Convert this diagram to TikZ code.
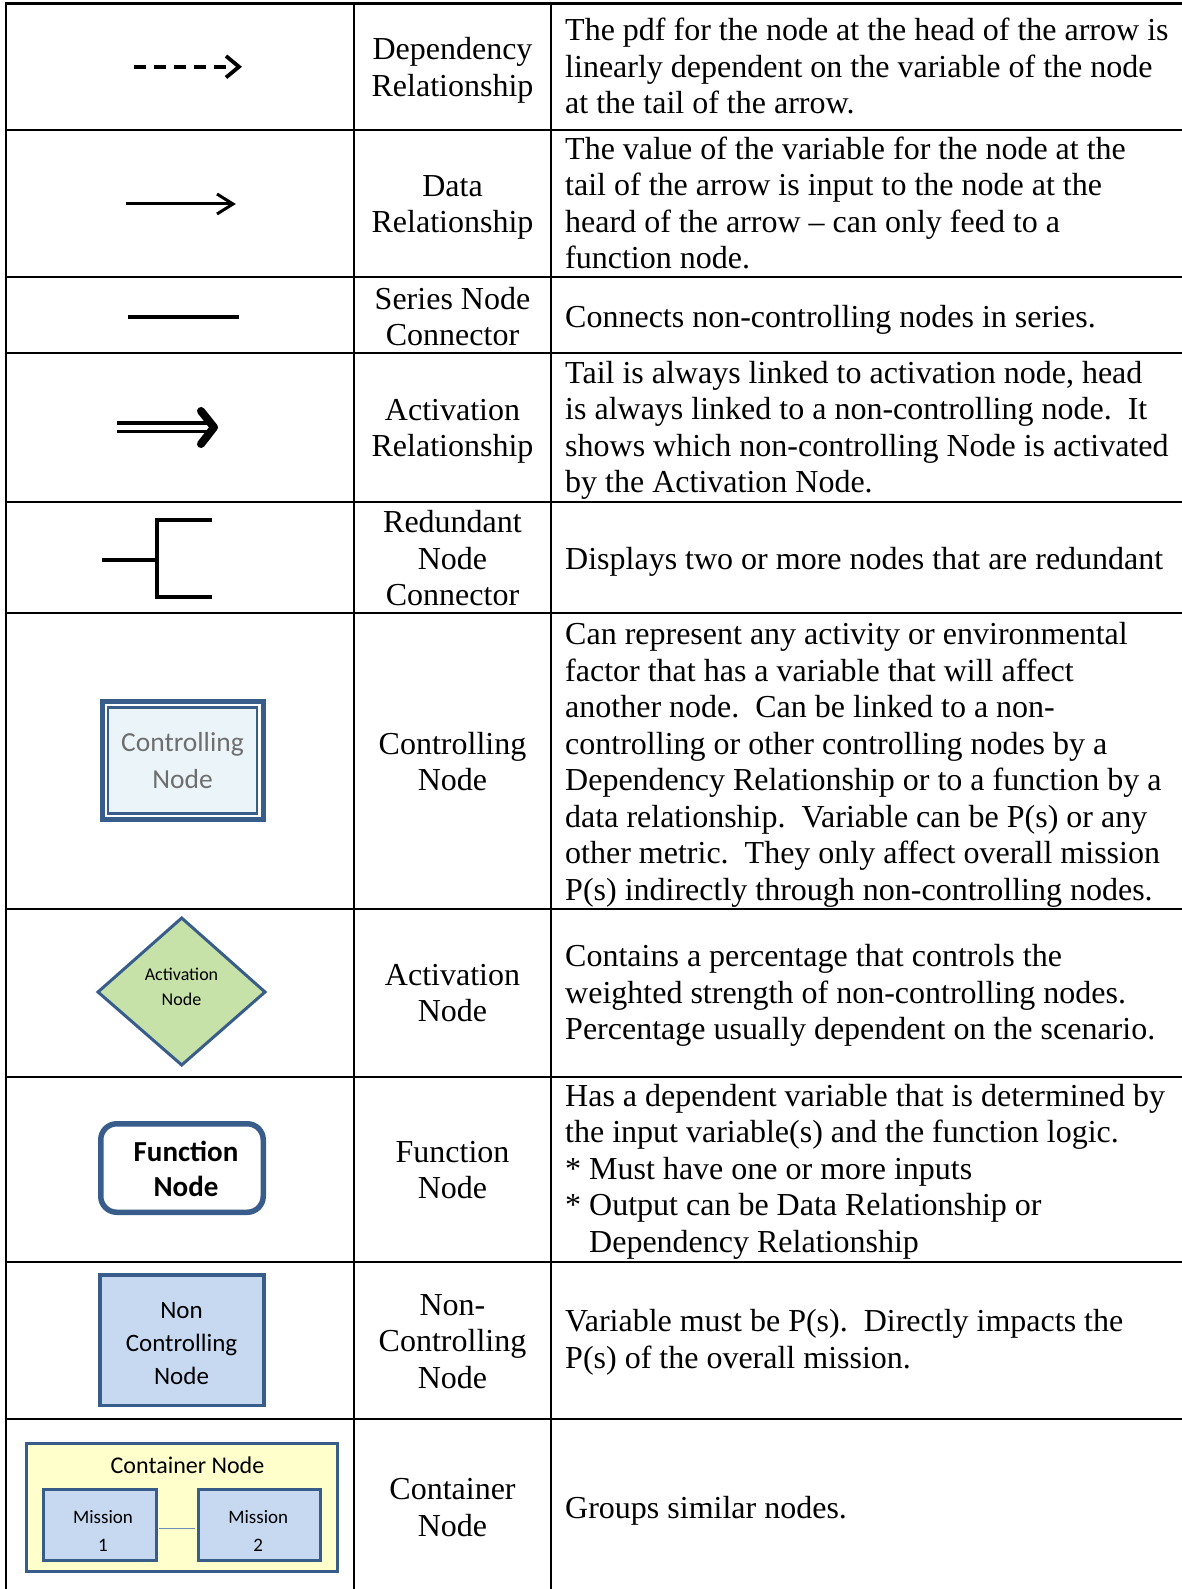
\documentclass[tikz,border=0pt]{standalone}
\usepackage{fontspec}
\setmainfont{Liberation Serif}
\newfontfamily\calfont{Carlito}
\usetikzlibrary{calc}
\definecolor{nodeblue}{HTML}{385D8A}
\definecolor{ctrlfill}{HTML}{EBF4F8}
\definecolor{ctrltext}{HTML}{6E6E6E}
\definecolor{actfill}{HTML}{C7E2A8}
\definecolor{ncfill}{HTML}{C6D9F1}
\definecolor{contfill}{HTML}{FFFFCC}
\definecolor{linkblue}{HTML}{6F8FB8}
\begin{document}
\begin{tikzpicture}[x=1pt,y=-1pt,
  gridline/.style={line width=2.5pt,black},
  txt/.style={inner sep=0pt,font=\fontsize{32}{36.5}\selectfont\frenchspacing,
    execute at begin node=\strut, execute at end node=\strut},
  namecell/.style={txt,anchor=center,align=center},
  desccell/.style={txt,anchor=west,align=left},
  caltxt/.style={inner sep=0pt,align=center,
    execute at begin node=\strut, execute at end node=\strut},
  symline/.style={line width=#1,black},
  shapebox/.style={draw=nodeblue,inner sep=0pt}
]
\useasboundingbox (0,0) rectangle (1182,1589);

% ---------- table grid ----------
\draw[gridline] (4.9,3.3) -- (1182,3.3);
\foreach \yy in {130,277,353,502,613,909,1077,1262,1419}
  \draw[gridline] (6,\yy) -- (1182,\yy);
\foreach \xx in {6,354,551}
  \draw[gridline] (\xx,3.3) -- (\xx,1589);

% ---------- column 2: names ----------
\node[namecell] (n1)  at (452.5,72.5)  {Dependency\\Relationship};
\node[namecell] (n2)  at (452.5,209.5) {Data\\Relationship};
\node[namecell] (n3)  at (452.5,322)   {Series Node\\Connector};
\node[namecell] (n4)  at (452.5,433.5) {Activation\\Relationship};
\node[namecell] (n5)  at (452.5,563.5) {Redundant\\Node\\Connector};
\node[namecell] (n6)  at (452.5,767)   {Controlling\\Node};
\node[namecell] (n7)  at (452.5,998.5) {Activation\\Node};
\node[namecell] (n8)  at (452.5,1175.5){Function\\Node};
\node[namecell] (n9)  at (452.5,1346.5){Non-\\Controlling\\Node};
\node[namecell] (n10) at (452.5,1513)  {Container\\Node};

% ---------- column 3: descriptions ----------
\node[desccell] (d1) at (565,71.4) {The pdf for the node at the head of the arrow is\\linearly dependent on the variable of the node\\at the tail of the arrow.};
\node[desccell] (d2) at (565,208.3) {The value of the variable for the node at the\\tail of the arrow is input to the node at the\\heard of the arrow \textendash{} can only feed to a\\function node.};
\node[desccell] (d3) at (565,320.6) {Connects non-controlling nodes in series.};
\node[desccell] (d4) at (565,432.3) {Tail is always linked to activation node, head\\is always linked to a non-controlling node.\ \ It\\shows which non-controlling Node is activated\\by the Activation Node.};
\node[desccell] (d5) at (565,562.1) {Displays two or more nodes that are redundant};
\node[desccell] (d6) at (565,766.9) {Can represent any activity or environmental\\factor that has a variable that will affect\\another node.\ \ Can be linked to a non-\\controlling or other controlling nodes by a\\Dependency Relationship or to a function by a\\data relationship.\ \ Variable can be P(s) or any\\other metric.\ \ They only affect overall mission\\P(s) indirectly through non-controlling nodes.};
\node[desccell] (d7) at (565,997.4) {Contains a percentage that controls the\\weighted strength of non-controlling nodes.\\Percentage usually dependent on the scenario.};
\node[desccell] (d8) at (565,1173.8) {Has a dependent variable that is determined by\\the input variable(s) and the function logic.\\{*} Must have one or more inputs\\{*} Output can be Data Relationship or\\\hphantom{*}\ Dependency Relationship};
\node[desccell] (d9) at (565,1344.6) {Variable must be P(s).\ \ Directly impacts the\\P(s) of the overall mission.};
\node[desccell] (d10) at (565,1511.6) {Groups similar nodes.};

% ---------- row 1: dependency arrow ----------
\coordinate (dep1) at (134,67);
\coordinate (dep2) at (227,67);
\draw[symline=4pt,dash pattern=on 12pt off 8pt] (dep1) -- (dep2);
\draw[symline=3.8pt] (226,56) -- (239,66.8) -- (226,77.5);

% ---------- row 2: data arrow ----------
\coordinate (dat1) at (126,204);
\coordinate (dat2) at (232,204);
\draw[symline=3pt] (dat1) -- (dat2);
\draw[symline=3pt] (217,194) -- (233,204) -- (217,214);

% ---------- row 3: series connector ----------
\coordinate (ser1) at (128,317);
\coordinate (ser2) at (239,317);
\draw[symline=3.5pt] (ser1) -- (ser2);

% ---------- row 4: activation arrow ----------
\coordinate (act1) at (117,423);
\coordinate (act2) at (212,423);
\coordinate (act3) at (117,431.5);
\coordinate (act4) at (212,431.5);
\draw[symline=3.5pt] (act1) -- (act2);
\draw[symline=3.5pt] (act3) -- (act4);
\draw[symline=8pt,line cap=round,line join=round] (201,411) -- (214,427.3) -- (201,444);

% ---------- row 5: redundant connector ----------
\coordinate (red0) at (102,560);
\coordinate (red1) at (157,560);
\draw[symline=4pt] (red0) -- (red1);
\draw[symline=4pt] (212,520) -- (157,520) -- (157,597) -- (212,597);

% ---------- row 6: controlling node ----------
\draw[draw=nodeblue,line width=5pt,fill=white] (102,701.5) rectangle (263,819.5);
\node[shapebox,line width=2.8pt,fill=ctrlfill,minimum width=149pt,minimum height=106pt] (ctrl) at (182.5,760.5) {};
\node[caltxt,font=\calfont\fontsize{27.5}{37}\selectfont,text=ctrltext] (ctrlt) at (182.5,766) {Controlling\\Node};

% ---------- row 7: activation node ----------
\coordinate (dT) at (181.7,918);
\coordinate (dL) at (98,992);
\coordinate (dB) at (181.7,1065);
\coordinate (dR) at (265,992);
\draw[draw=nodeblue,line width=3pt,fill=actfill,line join=miter] (dT) -- (dR) -- (dB) -- (dL) -- cycle;
\node[caltxt,font=\calfont\fontsize{18}{25}\selectfont] (actt) at (181.5,990.5) {Activation\\Node};

% ---------- row 8: function node ----------
\node[shapebox,line width=5.5pt,rounded corners=16pt,fill=white,minimum width=162.5pt,minimum height=88.5pt] (fn) at (182,1168) {};
\node[caltxt,font=\calfont\bfseries\fontsize{29}{35}\selectfont] (fnt) at (186,1174.5) {Function\\Node};

% ---------- row 9: non-controlling node ----------
\node[shapebox,line width=3.5pt,fill=ncfill,minimum width=164pt,minimum height=130.5pt] (nc) at (181.75,1340) {};
\node[caltxt,font=\calfont\fontsize{25}{33}\selectfont] (nct) at (181.5,1348.5) {Non\\Controlling\\Node};

% ---------- row 10: container node ----------
\node[shapebox,line width=3pt,fill=contfill,minimum width=310.5pt,minimum height=128pt] (cont) at (181.75,1507.5) {};
\node[inner sep=0pt,font=\calfont\fontsize{24}{28}\selectfont] (contt) at (187.5,1468) {\strut Container Node};
\node[shapebox,line width=3pt,fill=ncfill,minimum width=113pt,minimum height=70.7pt] (m1) at (99.7,1524.85) {};
\node[shapebox,line width=3pt,fill=ncfill,minimum width=122.5pt,minimum height=70.7pt] (m2) at (259.6,1524.85) {};
\draw[linkblue,line width=1pt] ($(m1.east)+(1.5,4)$) -- ($(m2.west)+(-1.5,4)$);
\node[caltxt,font=\calfont\fontsize{19}{28}\selectfont] (m1t) at (103,1535) {Mission\\1};
\node[caltxt,font=\calfont\fontsize{19}{28}\selectfont] (m2t) at (258.3,1535) {Mission\\2};
\end{tikzpicture}
\end{document}
